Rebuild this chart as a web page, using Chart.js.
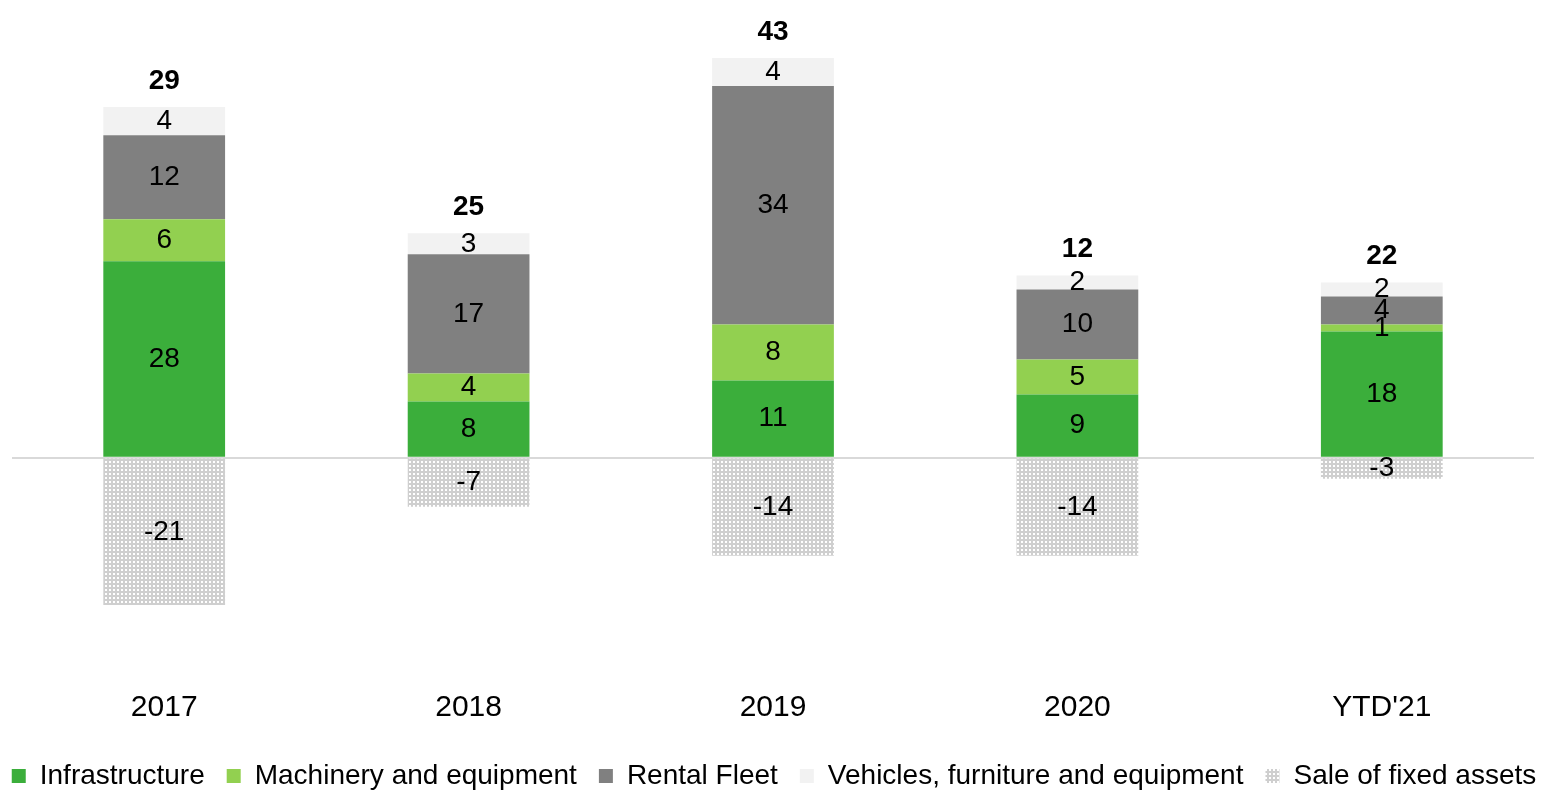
<!DOCTYPE html>
<html>
<head>
<meta charset="utf-8">
<script src="https://cdn.jsdelivr.net/npm/chart.js@4/dist/chart.umd.min.js"></script>
<style>
  html, body { margin: 0; padding: 0; background: #fff; }
  #wrap { width: 1568px; height: 792px; }
</style>
</head>
<body>
<div id="wrap"><canvas id="capexChart" width="1568" height="792"></canvas></div>
<script>
const categories     = ['2017', '2018', '2019', '2020', "YTD'21"];
const infrastructure = [28, 8, 11, 9, 18];
const machinery      = [6, 4, 8, 5, 1];
const rentalFleet    = [12, 17, 34, 10, 4];
const vehicles       = [4, 3, 4, 2, 2];
const saleOfAssets   = [-21, -7, -14, -14, -3];
const totals         = [29, 25, 43, 12, 22];

const FONT = "'Liberation Sans', Arial, sans-serif";

// dotted grey fill for the sale of fixed assets
const makePattern = () => {
    const c = document.createElement('canvas');
    c.width = 4; c.height = 4;
    const g = c.getContext('2d');
    g.fillStyle = '#cfcfcf';
    g.fillRect(0, 0, 4, 4);
    g.fillStyle = '#ffffff';
    g.fillRect(1, 1, 2, 2);
    return g.createPattern(c, 'repeat');
};

const labelsPlugin = {
    id: 'barLabels',
    afterInit(chart) {
        // one legend row, slightly shorter box
        const fit = chart.legend.fit;
        chart.legend.fit = function() {
            this.maxWidth = 1700;
            fit.call(this);
            this.height -= 8;
        };
    },
    afterLayout(chart) {
        // give the legend row a little room past the canvas edges so it never wraps
        chart.legend.left = -40;
        chart.legend.right = chart.width + 20;
        chart.legend.width = chart.width + 60;
    },
    afterDatasetsDraw(chart) {
        const ctx = chart.ctx;
        ctx.save();
        ctx.textAlign = 'center';
        ctx.textBaseline = 'middle';
        ctx.fillStyle = '#000';
        ctx.font = '28px ' + FONT;
        chart.data.datasets.forEach((ds, di) => {
            chart.getDatasetMeta(di).data.forEach((el, i) => {
                const p = el.getCenterPoint();
                ctx.fillText(String(ds.data[i]), p.x, p.y);
            });
        });
        // totals above the positive stack
        const top = chart.getDatasetMeta(3).data;
        ctx.font = 'bold 28px ' + FONT;
        top.forEach((el, i) => {
            ctx.fillText(String(totals[i]), el.x, el.y - 26);
        });
        ctx.restore();
    }
};

new Chart(document.getElementById('capexChart').getContext('2d'), {
    type: 'bar',
    data: {
        labels: categories,
        datasets: [
            {label: 'Infrastructure', data: infrastructure, backgroundColor: '#3bae3b'},
            {label: 'Machinery and equipment', data: machinery, backgroundColor: '#92d050'},
            {label: 'Rental Fleet', data: rentalFleet, backgroundColor: '#808080'},
            {label: 'Vehicles, furniture and equipment', data: vehicles, backgroundColor: '#f2f2f2'},
            {label: 'Sale of fixed assets', data: saleOfAssets, backgroundColor: makePattern()}
        ]
    },
    options: {
        responsive: false,
        animation: false,
        categoryPercentage: 0.4,
        barPercentage: 1,
        layout: {padding: {top: 37, left: 12, right: 34, bottom: 0}},
        plugins: {
            tooltip: {enabled: false},
            legend: {
                position: 'bottom',
                labels: {
                    font: {family: FONT, size: 28},
                    color: '#000',
                    boxWidth: 14,
                    boxHeight: 14,
                    padding: 22
                }
            }
        },
        scales: {
            x: {
                stacked: true,
                grid: {display: false},
                border: {display: false},
                ticks: {font: {family: FONT, size: 30}, color: '#000', padding: 14}
            },
            y: {
                stacked: true,
                min: -30,
                max: 60,
                border: {display: false},
                ticks: {display: false, stepSize: 10},
                grid: {
                    drawTicks: false,
                    lineWidth: 2,
                    color: c => c.tick && c.tick.value === 0 ? '#d9d9d9' : 'rgba(0,0,0,0)'
                }
            }
        }
    },
    plugins: [labelsPlugin]
});
</script>
</body>
</html>
